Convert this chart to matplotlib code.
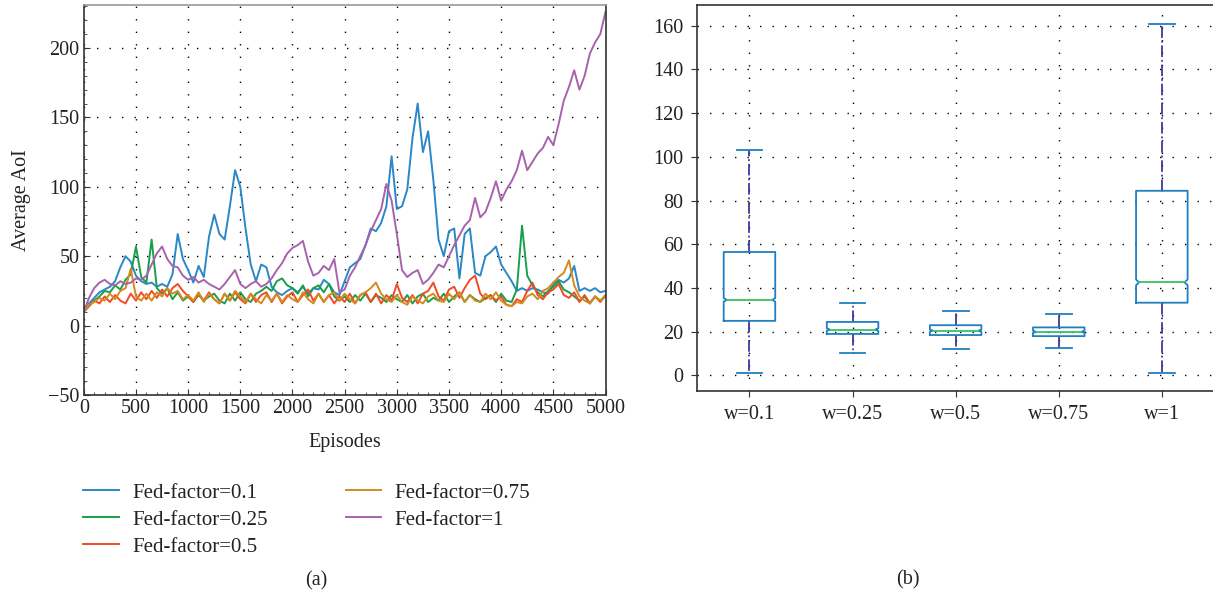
import matplotlib
matplotlib.use("Agg")
import matplotlib.pyplot as plt
import numpy as np

# ---- left panel: average AoI per episode (read every 50 episodes) ----
fed_01 = [10, 16, 20, 24, 26, 28, 32, 42, 50, 46, 36, 32, 30, 31, 28, 30, 28, 37, 66, 48,
          40, 31, 43, 35, 64, 80, 66, 62, 86, 112, 100, 70, 44, 32, 44, 42, 28, 24, 22, 25,
          27, 24, 28, 23, 27, 26, 33, 30, 24, 22, 32, 42, 45, 48, 58, 70, 68, 74, 86, 122,
          84, 86, 98, 135, 160, 125, 140, 105, 62, 50, 68, 70, 34, 66, 70, 38, 36, 50, 53, 57,
          44, 38, 32, 25, 27, 25, 27, 26, 24, 23, 30, 33, 31, 34, 43, 25, 27, 25, 27, 24, 25]
fed_025 = [10, 14, 18, 21, 25, 24, 29, 26, 33, 37, 57, 35, 31, 62, 27, 23, 27, 19, 24, 18,
           21, 17, 22, 18, 21, 23, 18, 16, 23, 18, 24, 19, 17, 23, 25, 28, 25, 32, 34, 29,
           27, 23, 29, 21, 27, 29, 24, 30, 21, 18, 21, 17, 22, 18, 23, 17, 22, 20, 17, 22,
           19, 17, 22, 16, 21, 23, 17, 20, 18, 23, 17, 21, 24, 17, 22, 19, 17, 20, 22, 17,
           23, 18, 17, 26, 72, 36, 29, 24, 21, 25, 28, 32, 26, 24, 21, 18, 21, 16, 21, 18, 21]
fed_05 = [10, 14, 18, 16, 21, 17, 22, 18, 16, 23, 18, 24, 19, 25, 20, 26, 21, 27, 30, 25,
          21, 17, 23, 18, 24, 19, 16, 23, 18, 24, 19, 16, 23, 17, 22, 24, 17, 23, 16, 21,
          24, 17, 22, 26, 18, 23, 17, 22, 16, 21, 17, 23, 16, 22, 24, 17, 23, 16, 22, 18,
          30, 20, 17, 22, 16, 23, 25, 31, 21, 18, 26, 28, 20, 27, 33, 36, 23, 19, 22, 18,
          21, 15, 14, 19, 17, 25, 31, 22, 19, 24, 26, 30, 22, 20, 24, 17, 22, 16, 21, 17, 22]
fed_075 = [10, 15, 17, 20, 18, 23, 19, 25, 27, 41, 21, 18, 23, 18, 24, 21, 27, 23, 25, 19,
           22, 18, 24, 17, 23, 19, 16, 23, 18, 25, 21, 17, 23, 19, 16, 22, 18, 23, 17, 22,
           19, 17, 24, 19, 16, 23, 17, 22, 24, 18, 23, 19, 16, 22, 24, 27, 31, 23, 19, 17,
           22, 17, 15, 21, 18, 16, 21, 23, 18, 17, 23, 19, 24, 17, 22, 18, 17, 23, 19, 24,
           18, 15, 14, 17, 16, 21, 23, 19, 25, 27, 31, 35, 38, 47, 29, 21, 18, 16, 21, 18, 22]
fed_1 = [10, 20, 27, 31, 33, 30, 29, 32, 30, 31, 34, 33, 36, 44, 52, 57, 48, 43, 42, 36,
         33, 35, 31, 33, 30, 28, 26, 30, 35, 40, 30, 27, 30, 32, 28, 30, 34, 40, 45, 52,
         56, 58, 61, 46, 36, 38, 43, 40, 48, 24, 26, 36, 42, 50, 58, 68, 76, 84, 102, 90,
         66, 40, 35, 38, 40, 30, 33, 38, 44, 42, 50, 58, 65, 72, 76, 92, 78, 82, 92, 104,
         90, 98, 104, 112, 126, 112, 118, 124, 128, 136, 130, 145, 162, 172, 184, 170, 180, 196, 204, 210, 226]

series_labels = ["Fed-factor=0.1", "Fed-factor=0.25", "Fed-factor=0.5",
                 "Fed-factor=0.75", "Fed-factor=1"]
series_colors = ["#2a87c8", "#17a04a", "#f24a25", "#d38c1c", "#a862ad"]

# ---- right panel: box statistics ----
box_labels = ["w=0.1", "w=0.25", "w=0.5", "w=0.75", "w=1"]
whislo = [1, 10.5, 12, 12.5, 1]
q1 = [25, 19, 18.5, 18, 33.3]
med = [34.6, 21, 20.5, 20, 42.6]
q3 = [56.5, 24.5, 23, 22, 84.5]
whishi = [103, 33, 29.5, 28, 161]
cilo = [33.8, 20.4, 20.0, 19.5, 41.3]
cihi = [35.4, 21.6, 21.0, 20.5, 43.9]

plt.rcParams['font.family'] = ['Liberation Serif', 'DejaVu Serif']
plt.rcParams['font.size'] = 14.5

W, H = 1213, 595
fig = plt.figure(figsize=(W / 100, H / 100), dpi=100)

grid_kw = dict(color="k", linestyle=(0, (1, 8)), linewidth=1.0)
spine_c = "#333333"

# left
ax1 = fig.add_axes([83.8 / W, 1 - 395 / H, (605.5 - 83.8) / W, (395 - 5) / H])
episodes = np.linspace(0, 5000, len(fed_01))
for ys, lab, col in zip([fed_01, fed_025, fed_05, fed_075, fed_1], series_labels, series_colors):
    ax1.plot(episodes, ys, color=col, lw=1.4, label=lab)
ax1.set_xlim(0, 5000)
ax1.set_ylim(-50, 231)
ax1.set_xticks(np.arange(0, 5001, 500))
ax1.set_xticks(np.arange(0, 5001, 100), minor=True)
ax1.set_yticks([-50, 0, 50, 100, 150, 200])
ax1.set_yticks(np.arange(-50, 231, 10), minor=True)
ax1.tick_params(which="both", direction="in", colors=spine_c, labelcolor="#222222", pad=3)
ax1.tick_params(which="major", length=4)
ax1.tick_params(which="minor", length=2)
ax1.set_axisbelow(True)
ax1.grid(True, which="major", **grid_kw)
for s in ax1.spines.values():
    s.set_color(spine_c)
    s.set_linewidth(1.2)
ax1.spines["top"].set_color("#999999")

fig.text(21.7 / W, 1 - 200 / H, "Average AoI", rotation=90, ha="center", va="center", color="#222222")
fig.text(344.6 / W, 1 - 443 / H, "Episodes", ha="center", va="center", color="#222222")

leg = ax1.legend(loc="upper left", bbox_to_anchor=(83.3 / W, 1 - 483 / H),
                 bbox_transform=fig.transFigure, ncol=2, frameon=False, borderpad=0,
                 borderaxespad=0, handlelength=1.7, handletextpad=0.65,
                 columnspacing=3.75, labelspacing=0.36, fontsize=15)
for t in leg.get_texts():
    t.set_color("#222222")

fig.text(316.7 / W, 1 - 581 / H, "(a)", ha="center", va="center", color="#222222")

# right
ax2 = fig.add_axes([697.3 / W, 1 - 391 / H, 516.7 / W, (391 - 5) / H])
pos = np.arange(1, len(box_labels) + 1)
stats = []
for i in range(len(box_labels)):
    stats.append(dict(whislo=whislo[i], q1=q1[i], med=med[i], q3=q3[i],
                      whishi=whishi[i], fliers=[], label=box_labels[i]))
box_c = "#1f7fc0"
ax2.bxp(stats, positions=pos, widths=0.5, showbox=False, showfliers=False,
        whiskerprops=dict(color="#3a3a9a", linestyle="-.", linewidth=1.3),
        capprops=dict(color=box_c, linewidth=1.3),
        medianprops=dict(visible=False))
half = 0.25
inset = 0.03
for i, p in enumerate(pos):
    L, R = p - half, p + half
    bx = [L, R, R, R - inset, R, R, L, L, L + inset, L, L]
    by = [q1[i], q1[i], cilo[i], med[i], cihi[i], q3[i], q3[i], cihi[i], med[i], cilo[i], q1[i]]
    ax2.plot(bx, by, color=box_c, lw=1.3, zorder=3)
    ax2.plot([L + inset, R - inset], [med[i], med[i]], color="#3cc060", lw=1.3, zorder=4)
ax2.set_xlim(0.494, 5.506)
ax2.set_ylim(-7.1, 169.5)
ax2.set_yticks(np.arange(0, 161, 20))
ax2.set_xticks(pos)
ax2.set_xticklabels(box_labels)
ax2.tick_params(direction="out", length=4, colors=spine_c, labelcolor="#222222", pad=6)
ax2.set_axisbelow(True)
ax2.grid(True, **grid_kw)
for s in ax2.spines.values():
    s.set_color(spine_c)
    s.set_linewidth(1.2)

fig.text(908 / W, 1 - 580 / H, "(b)", ha="center", va="center", color="#222222")

fig.savefig("out.png", dpi=100)
